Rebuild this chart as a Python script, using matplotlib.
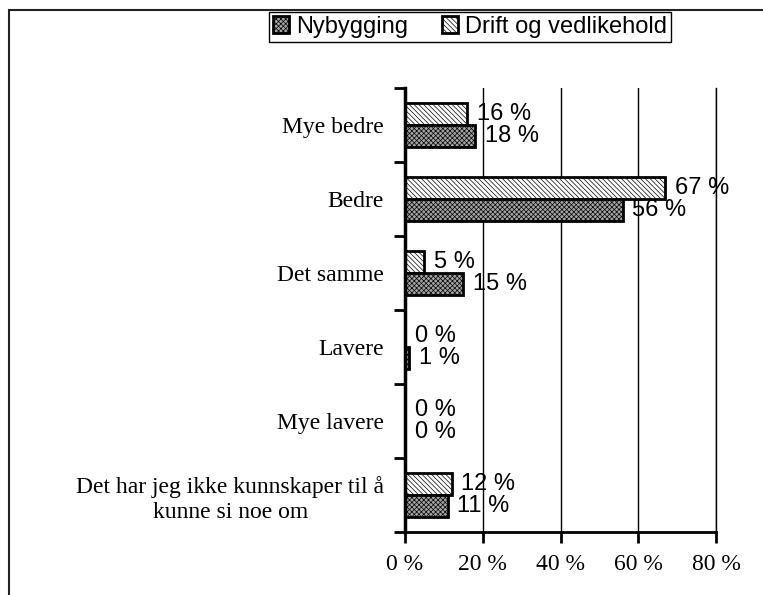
import matplotlib.pyplot as plt
import numpy as np
from matplotlib.patches import Rectangle

categories = ["Mye bedre", "Bedre", "Det samme", "Lavere", "Mye lavere",
              "Det har jeg ikke kunnskaper til å\nkunne si noe om"]
nybygging = [18, 56, 15, 1, 0, 11]
drift = [16, 67, 5, 0, 0, 12]
xticks = [0, 20, 40, 60, 80]

plt.rcParams['hatch.linewidth'] = 0.5

fig = plt.figure(figsize=(7.63, 5.95), dpi=100)
ax = fig.add_axes([405 / 763, 1 - 532 / 595, 311 / 763, 444 / 595])

y = np.arange(len(categories))
h = 0.3

b_drift = ax.barh(y - h / 2, drift, height=h, facecolor='white', edgecolor='black',
                  hatch='\\\\\\\\\\\\\\', linewidth=2, label='Drift og vedlikehold', zorder=3)
b_ny = ax.barh(y + h / 2, nybygging, height=h, facecolor='#a4a4a4', edgecolor='black',
               hatch='xxxxxxx', linewidth=2, label='Nybygging', zorder=3)

for bars, vals in [(b_drift, drift), (b_ny, nybygging)]:
    for bar, v in zip(bars, vals):
        ax.annotate(f"{v} %", (bar.get_width(), bar.get_y() + bar.get_height() / 2),
                    xytext=(7, 0), textcoords='offset points', va='center', ha='left',
                    fontsize=17, family='Liberation Sans', zorder=4)

ax.set_xlim(0, 80)
ax.set_ylim(5.5, -0.5)
ax.set_xticks(xticks)
ax.set_xticklabels([f"{t} %" for t in xticks], family='Liberation Serif', fontsize=17)
ax.tick_params(axis='x', direction='out', length=8, width=2, pad=8)

ax.set_yticks(y)
ax.set_yticklabels(categories, family='Liberation Serif', fontsize=17)
for lab in ax.get_yticklabels():
    lab.set_multialignment('center')
    lab.set_linespacing(1.25)
ax.tick_params(axis='y', which='major', length=0, pad=15)
ax.set_yticks(np.arange(-0.5, 6, 1), minor=True)
ax.tick_params(axis='y', which='minor', direction='out', length=8, width=2)

ax.grid(axis='x', color='black', linewidth=1, zorder=0)
ax.set_axisbelow(True)
ax.spines['top'].set_visible(False)
ax.spines['right'].set_linewidth(1)
ax.spines['left'].set_linewidth(2.5)
ax.spines['bottom'].set_linewidth(2)
ax.spines['left'].set_zorder(5)

handles = [b_ny, b_drift]
leg = fig.legend(handles, [hh.get_label() for hh in handles], loc='center',
                 bbox_to_anchor=(470 / 763, 1 - 27 / 595), ncol=2,
                 prop={'family': 'Liberation Sans', 'size': 17},
                 handlelength=0.7, handleheight=0.7, handletextpad=0.3,
                 columnspacing=1.4, borderpad=0.15, borderaxespad=0,
                 fancybox=False, framealpha=1, edgecolor='black')
leg.get_frame().set_linewidth(1)

fig.add_artist(Rectangle((9 / 763, -0.1), 2, 1.1 - 10 / 595, transform=fig.transFigure,
                         fill=False, edgecolor='#222222', linewidth=1.5))

fig.savefig('out.png', dpi=100)
